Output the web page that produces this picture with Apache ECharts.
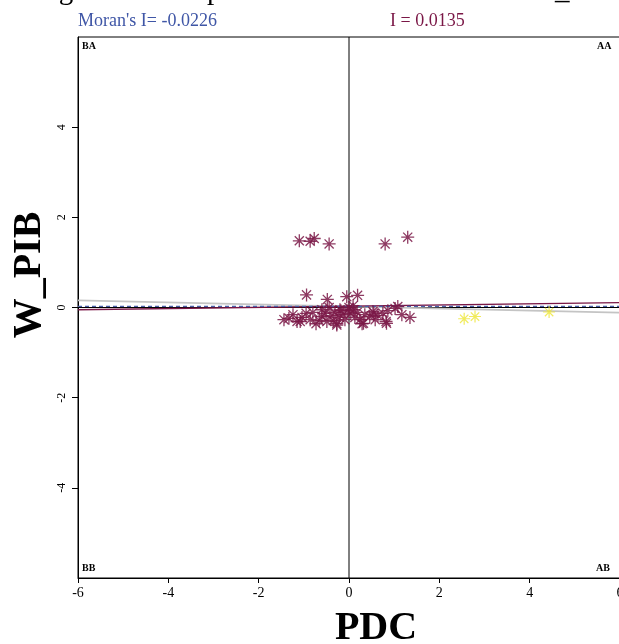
<!DOCTYPE html>
<html>
<head>
<meta charset="utf-8">
<script src="https://cdn.jsdelivr.net/npm/echarts@6/dist/echarts.min.js"></script>
<style>html,body{margin:0;padding:0;background:#fff;overflow:hidden}#c{width:619px;height:644px}</style>
</head>
<body>
<div id="c"></div>
<script>
// ---- data ----
var xTicks = [-6, -4, -2, 0, 2, 4, 6];
var yTicks = [-4, -2, 0, 2, 4];
var maroonPoints = [
  [-1.10, 1.48], [-0.86, 1.47], [-0.77, 1.53], [-0.44, 1.41], [0.80, 1.41], [1.30, 1.56],
  [-0.94, 0.28], [-0.48, 0.18], [-0.05, 0.24], [0.19, 0.27],
  [-1.44, -0.27], [-1.33, -0.24], [-1.24, -0.16], [-1.15, -0.31], [-1.08, -0.31], [-1.04, -0.22],
  [-0.95, -0.13], [-0.86, -0.27], [-0.80, -0.11], [-0.73, -0.36], [-0.66, -0.29], [-0.60, -0.20],
  [-0.53, -0.13], [-0.49, -0.31], [-0.44, 0.00], [-0.40, -0.18], [-0.35, -0.29], [-0.31, -0.11],
  [-0.27, -0.36], [-0.22, -0.22], [-0.18, -0.07], [-0.13, -0.16], [-0.09, -0.27], [-0.04, -0.07],
  [0.00, 0.00], [0.04, -0.13], [0.09, 0.04], [0.13, -0.22], [0.18, -0.11], [0.24, -0.27],
  [0.29, -0.36], [0.35, -0.16], [0.46, -0.20], [0.53, -0.09], [0.58, -0.27], [0.64, -0.18],
  [0.75, -0.13], [0.82, -0.31], [0.86, -0.07], [1.02, -0.02], [1.08, 0.02], [1.17, -0.16],
  [1.35, -0.22], [-0.27, -0.39], [0.32, -0.35], [0.83, -0.35], [-0.20, -0.05], [0.10, -0.05],
  [-0.60, -0.05], [0.55, -0.12]
];
var yellowPoints = [[2.55, -0.25], [2.79, -0.20], [4.43, -0.10]];
var grayLine = [[-6, 0.156], [6, -0.116]];
var maroonLine = [[-6, -0.05], [6, 0.11]];
var blueDashLine = [[-6, 0.025], [6, 0.025]];
var zeroHLine = [[-6, 0], [6, 0]];
var zeroVLine = [[0, -6], [0, 6]];
var globalI = "Moran's I= -0.0226";
var localI = "I = 0.0135";

var MAROON = '#7a1746';
var YELLOW = '#eee633';
var SERIF = '"Liberation Serif", "DejaVu Serif", serif';
var STAR = 'path://M5,0L5,10M0,5L10,5M1.5,1.5L8.5,8.5M1.5,8.5L8.5,1.5';

var chart = echarts.init(document.getElementById('c'), null, {renderer: 'canvas'});
function lineSeries(data, color, width, type, z) {
  return {type: 'line', data: data, symbol: 'none', silent: true, z: z,
    lineStyle: {color: color, width: width, type: type}, animation: false};
}
chart.setOption({
  animation: false,
  grid: {left: 78, top: 37, width: 542, height: 541, show: true, borderColor: '#000', borderWidth: 1,
    backgroundColor: 'transparent', containLabel: false, outerBoundsMode: 'none'},
  xAxis: {
    type: 'value', min: -6, max: 6, interval: 2,
    axisLine: {show: true, onZero: false, lineStyle: {color: '#000', width: 1}},
    axisTick: {show: true, length: 5, lineStyle: {color: '#000'}},
    axisLabel: {color: '#000', fontFamily: SERIF, fontSize: 14, margin: 8, showMaxLabel: true, showMinLabel: true},
    splitLine: {show: false}
  },
  yAxis: {
    type: 'value', min: -6, max: 6, interval: 2,
    axisLine: {show: true, onZero: false, lineStyle: {color: '#000', width: 1}},
    axisTick: {show: true, length: 6, customValues: yTicks, lineStyle: {color: '#000'}},
    axisLabel: {color: '#000', fontFamily: SERIF, fontSize: 12, margin: 10, rotate: 90, customValues: yTicks},
    splitLine: {show: false}
  },
  graphic: [
    {type: 'text', left: 17, top: -23, style: {text: 'Diagrama de dispersão de Moran – PDC vs W_PIB', font: '29px ' + SERIF, fill: '#000'}},
    {type: 'text', left: 78, top: 12, style: {text: globalI, font: '18px ' + SERIF, fill: '#3f56a6'}},
    {type: 'text', left: 390, top: 12, style: {text: localI, font: '18px ' + SERIF, fill: MAROON}},
    {type: 'text', left: 82, top: 41, style: {text: 'BA', font: 'bold 10px ' + SERIF, fill: '#000'}},
    {type: 'text', left: 597, top: 41, style: {text: 'AA', font: 'bold 10px ' + SERIF, fill: '#000'}},
    {type: 'text', left: 82, top: 563, style: {text: 'BB', font: 'bold 10px ' + SERIF, fill: '#000'}},
    {type: 'text', left: 596, top: 563, style: {text: 'AB', font: 'bold 10px ' + SERIF, fill: '#000'}},
    {type: 'text', x: 376, y: 629, style: {text: 'PDC', font: 'bold 40px ' + SERIF, fill: '#000', align: 'center', verticalAlign: 'middle'}},
    {type: 'text', x: 30, y: 275, rotation: Math.PI / 2, style: {text: 'W_PIB', font: 'bold 40px ' + SERIF, fill: '#000', align: 'center', verticalAlign: 'middle'}}
  ],
  series: [
    lineSeries(zeroVLine, '#000', 1, 'solid', 1),
    lineSeries(zeroHLine, '#000', 1, 'solid', 1),
    lineSeries(grayLine, '#c4c4c4', 1.8, 'solid', 2),
    lineSeries(maroonLine, MAROON, 1.3, 'solid', 3),
    lineSeries(blueDashLine, '#4a60a8', 1.2, [4, 3], 4),
    {type: 'scatter', data: maroonPoints, symbol: STAR, symbolSize: 13, z: 5,
      itemStyle: {color: 'rgba(0,0,0,0)', borderColor: MAROON, borderWidth: 1.3, opacity: 0.85}},
    {type: 'scatter', data: yellowPoints, symbol: STAR, symbolSize: 12, z: 5,
      itemStyle: {color: 'rgba(0,0,0,0)', borderColor: YELLOW, borderWidth: 1.2}}
  ]
});
</script>
</body>
</html>
